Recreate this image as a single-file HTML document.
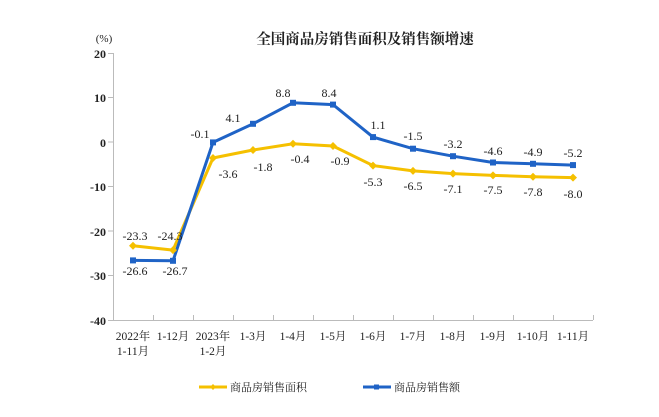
<!DOCTYPE html>
<html><head><meta charset="utf-8"><style>body{margin:0;background:#fff}svg{display:block}text{font-family:"Liberation Serif","Noto Serif CJK SC",serif;fill:#222}</style></head><body>
<svg width="659" height="417" xmlns="http://www.w3.org/2000/svg">
<text x="365" y="44" font-size="14.5" font-weight="bold" text-anchor="middle" font-family="Noto Sans CJK SC, sans-serif">全国商品房销售面积及销售额增速</text>
<text x="104" y="42" font-size="11" text-anchor="middle">(%)</text>
<g stroke="#bbb" stroke-width="1" fill="none">
<path d="M113.5 53V320.5H593"/>
<path d="M108 53.5h5M108 97.5h5M108 142h5M108 186.5h5M108 231h5M108 275.5h5M108 320.5h5"/>
<path d="M153.5 320v-5M193.5 320v-5M233.5 320v-5M273.5 320v-5M313.5 320v-5M353.5 320v-5M393.5 320v-5M433.5 320v-5M473.5 320v-5M513.5 320v-5M553.5 320v-5M593.5 320v-5"/>
</g>
<g font-size="12" text-anchor="end" font-weight="bold" fill="#333">
<text x="106" y="58">20</text><text x="106" y="102">10</text><text x="106" y="147">0</text><text x="106" y="191">-10</text><text x="106" y="236">-20</text><text x="106" y="280">-30</text><text x="106" y="325">-40</text>
</g>
<g font-size="11.5" text-anchor="middle">
<text x="133" y="340">2022年</text><text x="133" y="355">1-11月</text>
<text x="173" y="340">1-12月</text>
<text x="213" y="340">2023年</text><text x="213" y="355">1-2月</text>
<text x="253" y="340">1-3月</text><text x="293" y="340">1-4月</text><text x="333" y="340">1-5月</text><text x="373" y="340">1-6月</text><text x="413" y="340">1-7月</text><text x="453" y="340">1-8月</text><text x="493" y="340">1-9月</text><text x="533" y="340">1-10月</text><text x="573" y="340">1-11月</text>
</g>
<polyline fill="none" stroke="#f5c000" stroke-width="3" points="133,245.7 173,250.1 213,158 253,150 293,143.8 333,146 373,165.6 413,170.9 453,173.6 493,175.4 533,176.7 573,177.6"/>
<polyline fill="none" stroke="#1f63c6" stroke-width="3" points="133,260.4 173,260.8 213,142.4 253,123.8 293,102.8 333,104.6 373,137.1 413,148.7 453,156.2 493,162.5 533,163.8 573,165.1"/>
<g fill="#f5c000">
<path d="M133 241.7l4 4-4 4-4-4zM173 246.1l4 4-4 4-4-4zM213 154l4 4-4 4-4-4zM253 146l4 4-4 4-4-4zM293 139.8l4 4-4 4-4-4zM333 142l4 4-4 4-4-4zM373 161.6l4 4-4 4-4-4zM413 166.9l4 4-4 4-4-4zM453 169.6l4 4-4 4-4-4zM493 171.4l4 4-4 4-4-4zM533 172.7l4 4-4 4-4-4zM573 173.6l4 4-4 4-4-4z"/>
</g>
<g fill="#1f63c6">
<rect x="130" y="257.4" width="6" height="6"/><rect x="170" y="257.8" width="6" height="6"/><rect x="210" y="139.4" width="6" height="6"/><rect x="250" y="120.8" width="6" height="6"/><rect x="290" y="99.8" width="6" height="6"/><rect x="330" y="101.6" width="6" height="6"/><rect x="370" y="134.1" width="6" height="6"/><rect x="410" y="145.7" width="6" height="6"/><rect x="450" y="153.2" width="6" height="6"/><rect x="490" y="159.5" width="6" height="6"/><rect x="530" y="160.8" width="6" height="6"/><rect x="570" y="162.1" width="6" height="6"/>
</g>
<g font-size="12" text-anchor="middle">
<text x="135" y="240">-23.3</text><text x="170" y="240">-24.3</text>
<text x="135" y="275">-26.6</text><text x="175" y="275">-26.7</text>
<text x="200" y="138">-0.1</text><text x="233" y="122">4.1</text><text x="283" y="97">8.8</text><text x="329" y="97">8.4</text>
<text x="378" y="129">1.1</text><text x="413" y="140">-1.5</text><text x="453" y="148">-3.2</text><text x="493" y="155">-4.6</text><text x="533" y="156">-4.9</text><text x="573" y="157">-5.2</text>
<text x="228" y="178">-3.6</text><text x="263" y="171">-1.8</text><text x="300" y="163">-0.4</text><text x="340" y="165">-0.9</text>
<text x="373" y="186">-5.3</text><text x="413" y="190">-6.5</text><text x="453" y="193">-7.1</text><text x="493" y="194">-7.5</text><text x="533" y="196">-7.8</text><text x="573" y="198">-8.0</text>
</g>
<line x1="199" y1="387" x2="227" y2="387" stroke="#f5c000" stroke-width="3"/><path d="M213 384l3 3-3 3-3-3z" fill="#f5c000"/>
<text x="230" y="391" font-size="11">商品房销售面积</text>
<line x1="363" y1="387" x2="391" y2="387" stroke="#1f63c6" stroke-width="3"/><rect x="374" y="384.5" width="5" height="5" fill="#1f63c6"/>
<text x="394" y="391" font-size="11">商品房销售额</text>
</svg>
</body></html>
